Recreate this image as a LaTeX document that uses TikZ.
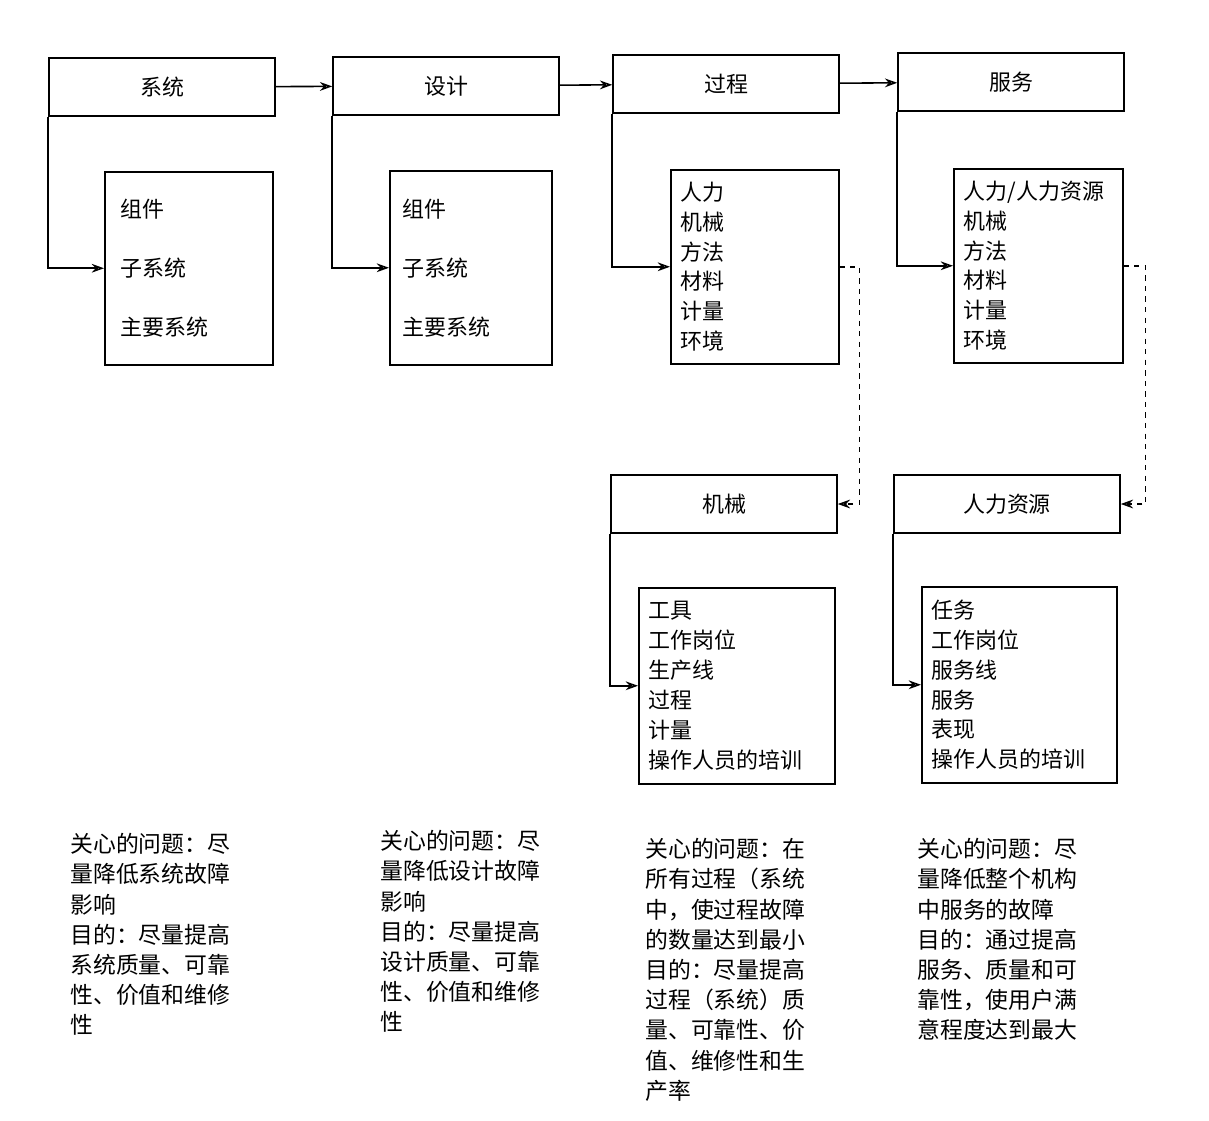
\documentclass[tikz,border=0pt]{standalone}
\usepackage{fontspec}
\setmainfont{Noto Sans CJK SC}
\usetikzlibrary{arrows.meta,positioning}
\tikzset{hdr/.style={draw,line width=0.9pt,minimum width=4.52cm,minimum height=1.16cm,inner sep=0pt,font=\fontsize{12.5}{15}\selectfont},
  lst/.style={draw,line width=0.9pt,anchor=north west,align=left,inner ysep=0.2cm,font=\fontsize{12.5}{17}\selectfont},
  note/.style={anchor=north west,align=left,inner sep=0pt,font=\fontsize{13}{17.2}\selectfont},
  con/.style={line width=0.9pt,-{Stealth[open,length=7pt,width=5pt]}}}
\begin{document}
\begin{tikzpicture}[x=0.02cm,y=-0.02cm]
        \useasboundingbox (0,0) rectangle (1209,1121);
        % headers
        \node[hdr] (sys) at (162,87) {系统};
        \node[hdr] (des) at (446,86) {设计};
        \node[hdr] (proc) at (726,84) {过程};
        \node[hdr] (serv) at (1011,82) {服务};
        \node[hdr] (mach) at (724,504) {机械};
        \node[hdr] (hr) at (1007,504) {人力资源};

        % lists
        \node[lst,text width=2.72cm,minimum height=3.86cm,inner xsep=0.32cm,font=\fontsize{12.5}{33.6}\selectfont] (sysL) at (104,171) {组件\\子系统\\主要系统};
        \node[lst,text width=2.72cm,minimum height=3.88cm,inner xsep=0.26cm,font=\fontsize{12.5}{33.6}\selectfont] (desL) at (389,170) {组件\\子系统\\主要系统};
        \node[lst,text width=2.96cm,minimum height=3.88cm,inner xsep=0.2cm] (procL) at (670,169) {人力\\机械\\方法\\材料\\计量\\环境};
        \node[lst,text width=2.98cm,minimum height=3.88cm,inner xsep=0.2cm] (servL) at (953,168) {人力/人力资源\\机械\\方法\\材料\\计量\\环境};
        \node[lst,text width=3.52cm,minimum height=3.92cm,inner xsep=0.2cm] (machL) at (638,587) {工具\\工作岗位\\生产线\\过程\\计量\\操作人员的培训};
        \node[lst,text width=3.5cm,minimum height=3.92cm,inner xsep=0.2cm] (hrL) at (921,586) {任务\\工作岗位\\服务线\\服务\\表现\\操作人员的培训};

        % header chain
        \draw[con] (sys) -- (des);
        \draw[con] (des) -- (proc);
        \draw[con] (proc) -- (serv);
        % down into lists
        \draw[con] (sys.south west) |- (sysL.west);
        \draw[con] (des.south west) |- (desL.west);
        \draw[con] (proc.south west) |- (procL.west);
        \draw[con] (serv.south west) |- (servL.west);
        \draw[con] (mach.south west) |- (machL.west);
        \draw[con] (hr.south west) |- (hrL.west);
        % dashed links
        \draw[con,dashed] (procL.east) -- ++(20,0) |- (mach.east);
        \draw[con,dashed] (servL.east) -- ++(22,0) |- (hr.east);

        % notes
        \node[note] (n1) at (70,833) {关心的问题：尽\\量降低系统故障\\影响\\目的：尽量提高\\系统质量、可靠\\性、价值和维修\\性};
        \node[note] (n2) at (380,830) {关心的问题：尽\\量降低设计故障\\影响\\目的：尽量提高\\设计质量、可靠\\性、价值和维修\\性};
        \node[note] (n3) at (645,838) {关心的问题：在\\所有过程（系统\\中，使过程故障\\的数量达到最小\\目的：尽量提高\\过程（系统）质\\量、可靠性、价\\值、维修性和生\\产率};
        \node[note] (n4) at (917,838) {关心的问题：尽\\量降低整个机构\\中服务的故障\\目的：通过提高\\服务、质量和可\\靠性，使用户满\\意程度达到最大};
    \end{tikzpicture}
\end{document}
